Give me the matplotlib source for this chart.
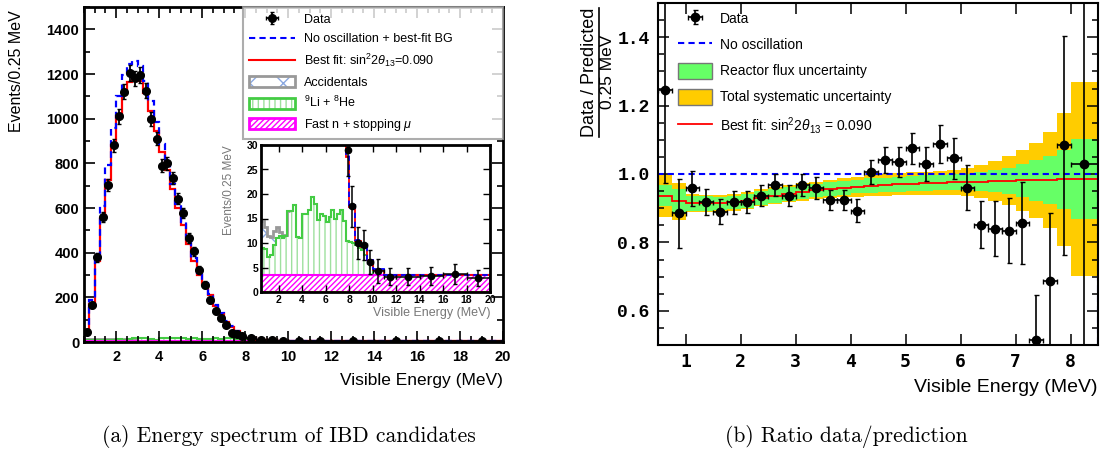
import numpy as np
import matplotlib
matplotlib.use('Agg')
import matplotlib.pyplot as plt
from matplotlib.patches import Patch
from matplotlib.lines import Line2D
from matplotlib.ticker import MultipleLocator
from matplotlib.legend_handler import HandlerTuple

plt.rcParams['font.family'] = ['Liberation Sans', 'DejaVu Sans']
plt.rcParams['mathtext.fontset'] = 'custom'
plt.rcParams['mathtext.rm'] = 'Liberation Sans'
plt.rcParams['mathtext.it'] = 'Liberation Sans:italic'
plt.rcParams['hatch.linewidth'] = 1.0

# ---------------- (a) energy spectrum, events / 0.25 MeV ----------------
spec_edges = np.concatenate([np.arange(0.5, 8.01, 0.25),
                             [8.5, 9.0, 9.5, 10.0, 11.0, 12.0, 14.0, 16.0, 18.0, 20.0]])
data_counts = [45, 165, 380, 560, 705, 880, 1010, 1120, 1205, 1180, 1195, 1125, 1000, 910,
               790, 800, 735, 641, 578, 466, 407, 324, 257, 187, 138, 108, 78, 42, 37, 29,
               17.5, 10.0, 9.6, 6.1, 4.3, 3.1, 3.1, 3.3, 3.7, 2.9]
data_errs = [10, 14, 20, 24, 27, 30, 32, 34, 35, 35, 35, 34, 32, 30, 28, 28, 27, 25, 24, 22,
             20, 18, 16, 14, 12, 10, 9, 7, 6, 5.4, 4.2, 3.2, 3.1, 2.5, 2.4, 1.7, 1.7, 1.9, 2.0, 1.6]
no_osc = [38, 186, 395, 608, 792, 960, 1100, 1195, 1245, 1260, 1235, 1170, 1080, 985, 885,
          795, 707, 620, 538, 452, 374, 310, 262, 215, 164, 128, 92, 70, 50, 28,
          17.8, 10.6, 9.3, 6.6, 4.6, 3.5, 3.45, 3.45, 3.45, 3.45]
best_fit = [35, 171, 361, 556, 724, 880, 1014, 1111, 1165, 1186, 1170, 1114, 1033, 946, 852,
            768, 684, 601, 523, 440, 363, 302, 256, 210, 160, 125, 90, 69, 49, 27.5,
            17.4, 10.4, 9.1, 6.5, 4.5, 3.45, 3.4, 3.4, 3.4, 3.4]

# backgrounds (stacked), 0.25 MeV bins from 0.5 to 10 MeV, then one bin to 20 MeV
bg_edges = np.concatenate([np.arange(0.5, 10.01, 0.25), [20.0]])
fastn_level = 3.5
li_top = [9.0, 8.7, 7.2, 7.5, 9.5, 11.0, 11.5, 11.0, 11.5, 16.5, 16.5, 17.8, 11.3, 11.0,
          16.0, 16.0, 16.7, 19.4, 18.0, 14.7, 16.0, 15.5, 14.3, 15.3, 16.7, 15.0, 16.0, 16.7,
          14.5, 10.5, 10.3, 10.0, 9.5, 9.0, 8.5, 7.5, 6.5, 5.5, 3.5]
acc_extra = [5.5, 4.6, 4.3, 3.8, 3.0, 2.2, 0.8, 0.5, 0.2]

# ---------------- (b) ratio data / prediction ----------------
ratio_edges = np.concatenate([np.arange(0.5, 8.01, 0.25), [8.5]])
ratio_data = [1.245, 0.885, 0.958, 0.919, 0.89, 0.917, 0.917, 0.937, 0.968, 0.937, 0.968,
              0.96, 0.924, 0.924, 0.893, 1.006, 1.04, 1.035, 1.075, 1.03, 1.087, 1.046,
              0.96, 0.852, 0.84, 0.834, 0.858, 0.516, 0.687, 1.084, 1.029]
ratio_errs = [0.27, 0.1, 0.051, 0.038, 0.036, 0.033, 0.032, 0.032, 0.032, 0.032, 0.032,
              0.032, 0.03, 0.03, 0.034, 0.035, 0.038, 0.043, 0.046, 0.05, 0.055, 0.06,
              0.065, 0.068, 0.08, 0.095, 0.12, 0.13, 0.2, 0.32, 0.6]
fit_ratio = [0.937, 0.92, 0.915, 0.914, 0.914, 0.917, 0.922, 0.93, 0.936, 0.942, 0.948,
             0.952, 0.956, 0.96, 0.963, 0.966, 0.968, 0.97, 0.972, 0.973, 0.975, 0.976,
             0.977, 0.978, 0.979, 0.98, 0.981, 0.982, 0.983, 0.984, 0.985]
flux_unc = [0.03, 0.035, 0.022, 0.021, 0.02, 0.02, 0.02, 0.02, 0.02, 0.02, 0.02, 0.02, 0.02,
            0.02, 0.02, 0.021, 0.021, 0.022, 0.022, 0.023, 0.023, 0.024, 0.024, 0.028,
            0.033, 0.038, 0.047, 0.06, 0.07, 0.085, 0.118]
total_unc = [0.064, 0.055, 0.027, 0.026, 0.025, 0.025, 0.025, 0.025, 0.025, 0.025, 0.026,
             0.026, 0.027, 0.028, 0.029, 0.03, 0.031, 0.032, 0.033, 0.034, 0.035, 0.037,
             0.04, 0.049, 0.058, 0.072, 0.09, 0.11, 0.14, 0.195, 0.283]

W, H = 1109, 455
fig = plt.figure(figsize=(W / 100, H / 100), dpi=100)


def px_axes(x0, y0, x1, y1):
    return fig.add_axes([x0 / W, 1 - y1 / H, (x1 - x0) / W, (y1 - y0) / H])


def style_ticks(ax, width=1.2, major=7, minor=4):
    ax.tick_params(which='both', direction='in', top=True, right=True, width=width)
    ax.tick_params(which='major', length=major)
    ax.tick_params(which='minor', length=minor)


def draw_backgrounds(ax, lw):
    li = np.array(li_top)
    acc = li.copy()
    acc[:len(acc_extra)] += acc_extra
    ax.stairs([fastn_level], [0.5, 20.0], baseline=0, fill=True, facecolor='white',
              edgecolor='#ff00ff', hatch='//////', linewidth=0, zorder=1)
    ax.stairs(li, bg_edges, baseline=fastn_level, fill=True, facecolor='white',
              edgecolor='#9ee09e', hatch='|||', linewidth=0, zorder=1)
    ax.stairs(acc, bg_edges, baseline=li, fill=True, facecolor='white',
              edgecolor='#8aa8e0', hatch='x', linewidth=0, zorder=1)
    n = len(acc_extra) + 1
    ax.stairs(acc[:n], bg_edges[:n + 1], baseline=None, color='#999999', lw=lw + 0.5, zorder=1.2)
    ax.stairs(li, bg_edges, baseline=None, color='#44cc44', lw=lw, zorder=1.3)
    ax.stairs([fastn_level], [0.5, 20.0], baseline=None, color='#ff00ff', lw=lw, zorder=1.4)
    ax.axhline(0, color='#e07020', lw=1.5, zorder=1.5)


centers = 0.5 * (spec_edges[1:] + spec_edges[:-1])
halfw = 0.5 * (spec_edges[1:] - spec_edges[:-1])

# ---- left main axes ----
ax1 = px_axes(84, 7, 503, 342)
draw_backgrounds(ax1, 1.5)
ax1.stairs(best_fit, spec_edges, baseline=0, color='red', lw=1.6, zorder=2)
ax1.stairs(no_osc, spec_edges, baseline=0, color='blue', lw=1.6, ls=(0, (3, 2)), zorder=2.1)
eb = ax1.errorbar(centers, data_counts, yerr=data_errs, xerr=halfw, fmt='o', color='black',
                  ms=5.5, elinewidth=1.3, capsize=1.5, zorder=3)
ax1.set_xlim(0.5, 20)
ax1.set_ylim(0, 1500)
xt = [2, 4, 6, 8, 10, 12, 14, 16, 18, 20]
ax1.set_xticks(xt, [str(v) for v in xt], fontsize=10.5, fontweight='bold')
yt = [0, 200, 400, 600, 800, 1000, 1200, 1400]
ax1.set_yticks(yt, [str(v) for v in yt], fontsize=10.5, fontweight='bold')
ax1.xaxis.set_minor_locator(MultipleLocator(0.5))
ax1.yaxis.set_minor_locator(MultipleLocator(100))
style_ticks(ax1, width=1.2, major=8, minor=4)
for s in ax1.spines.values():
    s.set_linewidth(2)
ax1.tick_params(axis='x', pad=6)

leg_handles = [
    eb,
    Line2D([], [], color='blue', lw=1.5, ls=(0, (3, 2))),
    Line2D([], [], color='red', lw=1.5),
    (Patch(facecolor='white', edgecolor='#8aa8e0', hatch='x', lw=0),
     Patch(facecolor='none', edgecolor='#999999', lw=2)),
    (Patch(facecolor='white', edgecolor='#9ee09e', hatch='|||', lw=0),
     Patch(facecolor='none', edgecolor='#44cc44', lw=2)),
    (Patch(facecolor='white', edgecolor='#ff00ff', hatch='//////', lw=0),
     Patch(facecolor='none', edgecolor='#ff00ff', lw=2)),
]
leg_labels = ['Data', 'No oscillation + best-fit BG',
              r'Best fit: sin$^2$2$\theta_{13}$=0.090', 'Accidentals',
              r'$^9$Li + $^8$He', 'Fast n + stopping $\mu$']
leg1 = ax1.legend(leg_handles, leg_labels, loc='upper left',
                  bbox_to_anchor=(0.379, 1.0, 0.621, 0.0), mode='expand', borderaxespad=0,
                  fontsize=9, frameon=True, fancybox=False, handlelength=3.7,
                  handleheight=1.0, handletextpad=0.7, labelspacing=0.52, borderpad=0.5,
                  handler_map={tuple: HandlerTuple(ndivide=1, pad=0)})
leg1.get_frame().set_edgecolor('#999999')
leg1.get_frame().set_linewidth(1.5)
leg1.set_zorder(5)

fig.text(17 / W, 1 - 10 / H, 'Events/0.25 MeV', rotation=90, ha='center', va='top',
         fontsize=11.5)
fig.text(503 / W, 1 - 380 / H, 'Visible Energy (MeV)', ha='right', va='center', fontsize=12.5)

# ---- inset ----
axi = px_axes(261, 145, 490, 292)
draw_backgrounds(axi, 1.5)
axi.stairs(best_fit, spec_edges, baseline=0, color='red', lw=1.3, zorder=2)
axi.stairs(no_osc, spec_edges, baseline=0, color='blue', lw=1.3, ls=(0, (3, 2)), zorder=2.1)
axi.errorbar(centers, data_counts, yerr=data_errs, xerr=halfw, fmt='o', color='black',
             ms=4.5, elinewidth=1.1, capsize=1.2, zorder=3)
axi.set_xlim(0.5, 20)
axi.set_ylim(0, 30)
axi.set_xticks(xt, [str(v) for v in xt], fontsize=7.5, fontweight='bold')
it = [0, 5, 10, 15, 20, 25, 30]
axi.set_yticks(it, [str(v) for v in it], fontsize=7.5, fontweight='bold')
style_ticks(axi, width=1.0, major=5, minor=2.5)
axi.tick_params(pad=2)
for s in axi.spines.values():
    s.set_linewidth(2)
fig.text(229 / W, 1 - 145 / H, 'Events/0.25 MeV', rotation=90, ha='center', va='top',
         fontsize=8.5, color='#777777')
fig.text(490 / W, 1 - 313 / H, 'Visible Energy (MeV)', ha='right', va='center',
         fontsize=9, color='#777777')

# ---- right: ratio ----
ax2 = px_axes(658, 3, 1098, 345)
fr = np.array(fit_ratio)
tu = np.array(total_unc)
fu = np.array(flux_unc)
ax2.stairs(fr + tu, ratio_edges, baseline=fr - tu, fill=True, color='#ffcc00', lw=0, zorder=1)
ax2.stairs(fr + fu, ratio_edges, baseline=fr - fu, fill=True, color='#66ff66', lw=0, zorder=1.1)
ax2.stairs(fit_ratio, ratio_edges, baseline=0, color='red', lw=1.3, zorder=2)
ax2.stairs([1.0], [0.5, 8.5], baseline=0, color='blue', lw=1.5, ls=(0, (3, 2)), zorder=2.1)
rc = 0.5 * (ratio_edges[1:] + ratio_edges[:-1])
rw = 0.5 * (ratio_edges[1:] - ratio_edges[:-1])
eb2 = ax2.errorbar(rc, ratio_data, yerr=ratio_errs, xerr=rw, fmt='o', color='black', ms=6,
                   elinewidth=1.2, capsize=1.8, zorder=3)
ax2.set_xlim(0.5, 8.5)
ax2.set_ylim(0.5, 1.5)
rx = [1, 2, 3, 4, 5, 6, 7, 8]
ax2.set_xticks(rx, [str(v) for v in rx], fontsize=13, fontweight='bold',
               fontfamily='DejaVu Sans Mono')
ry = [0.6, 0.8, 1.0, 1.2, 1.4]
ax2.set_yticks(ry, ['%.1f' % v for v in ry], fontsize=13, fontweight='bold',
               fontfamily='Liberation Mono')
ax2.yaxis.set_minor_locator(MultipleLocator(0.05))
style_ticks(ax2, width=1.1, major=8, minor=4)
ax2.tick_params(axis='y', pad=6)
ax2.tick_params(axis='x', pad=6)
for s in ax2.spines.values():
    s.set_linewidth(1.5)

leg2 = ax2.legend([eb2, Line2D([], [], color='blue', lw=1.5, ls=(0, (3, 2))),
                   Patch(facecolor='#66ff66', edgecolor='#777777', lw=1),
                   Patch(facecolor='#ffcc00', edgecolor='#777777', lw=1),
                   Line2D([], [], color='red', lw=1.3)],
                  ['Data', 'No oscillation', 'Reactor flux uncertainty',
                   'Total systematic uncertainty',
                   r'Best fit: sin$^2$2$\theta_{13}$ = 0.090'],
                  loc='upper left', bbox_to_anchor=(0.045, 0.978), borderaxespad=0,
                  borderpad=0, frameon=False, fontsize=10, handlelength=2.45,
                  handleheight=1.4, handletextpad=0.6, labelspacing=0.72)

fig.text(589 / W, 1 - 72 / H, 'Data / Predicted', rotation=90, ha='center', va='center',
         fontsize=13)
fig.add_artist(Line2D([599 / W, 599 / W], [1 - 8 / H, 1 - 137 / H], color='black', lw=1.2))
fig.text(608 / W, 1 - 72 / H, '0.25 MeV', rotation=90, ha='center', va='center',
         fontsize=12.5)
fig.text(1098 / W, 1 - 388 / H, 'Visible Energy (MeV)', ha='right', va='center', fontsize=14)

# captions
fig.text(289 / W, 1 - 437 / H, '(a) Energy spectrum of IBD candidates', family='cmr10',
         fontsize=15.5, ha='center', va='center')
fig.text(846 / W, 1 - 437 / H, '(b) Ratio data/prediction', family='cmr10',
         fontsize=15.5, ha='center', va='center')

fig.savefig('out.png', dpi=100)
